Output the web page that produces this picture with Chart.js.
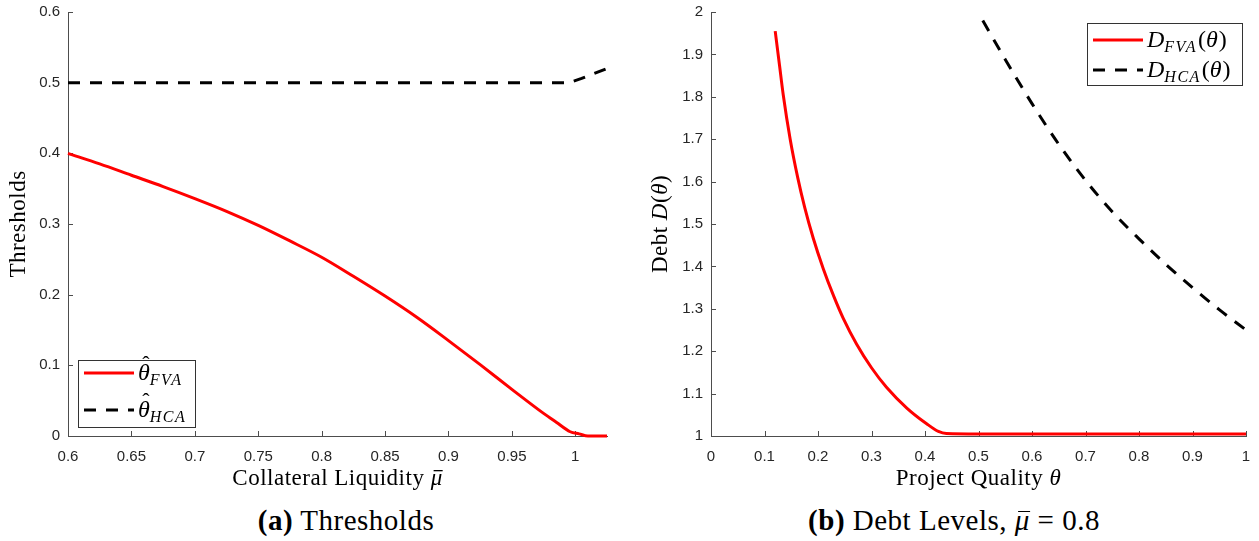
<!DOCTYPE html>
<html>
<head>
<meta charset="utf-8">
<script src="https://cdn.jsdelivr.net/npm/chart.js@4.4.1/dist/chart.umd.min.js"></script>
<style>
  body { margin: 0; background: #fff; width: 1259px; height: 541px; position: relative; overflow: hidden; }
  .panel { position: absolute; top: 0; height: 500px; }
  #leftWrap { left: 0; width: 620px; }
  #rightWrap { left: 640px; width: 619px; }
  .caption { position: absolute; top: 504px; font-family: "Liberation Serif", serif; font-size: 29px; letter-spacing: 0.5px; color: #000; white-space: nowrap; transform: translateX(-50%); }
  .mubar { position: relative; font-style: italic; }
  .mubar::before { content: ""; position: absolute; left: 3px; right: 0; top: 7px; border-top: 1.3px solid #000; }
</style>
</head>
<body>
<div class="panel" id="leftWrap"><canvas id="thresholdChart"></canvas></div>
<div class="panel" id="rightWrap"><canvas id="debtChart"></canvas></div>
<div class="caption" style="left:346px"><b>(a)</b> Thresholds</div>
<div class="caption" style="left:954px"><b>(b)</b> Debt Levels, <span class="mubar">μ</span> = 0.8</div>
<script>
// --- panel (a): thresholds vs collateral liquidity ---
const muFVA = [0.6, 0.625, 0.65, 0.675, 0.7, 0.725, 0.75, 0.775, 0.8, 0.825, 0.85, 0.875, 0.9, 0.925, 0.95, 0.975, 0.985, 0.996, 1.003, 1.01, 1.025];
const thetaFVA = [0.400, 0.385, 0.369, 0.353, 0.336, 0.318, 0.298, 0.276, 0.253, 0.226, 0.198, 0.168, 0.135, 0.101, 0.066, 0.032, 0.0195, 0.006, 0.003, 0.0, 0.0];
const muHCA = [0.6, 0.7, 0.8, 0.9, 0.995, 1.005, 1.015, 1.025];
const thetaHCA = [0.5, 0.5, 0.5, 0.5, 0.5, 0.506, 0.513, 0.520];

// --- panel (b): debt levels vs project quality ---
const qualFVA = [0.12, 0.128, 0.135, 0.148, 0.162, 0.175, 0.191, 0.21, 0.229, 0.247, 0.272, 0.3, 0.328, 0.366, 0.403, 0.425, 0.44, 0.5, 0.6, 0.7, 0.8, 0.9, 1.0];
const debtFVA = [1.955, 1.875, 1.805, 1.70, 1.61, 1.54, 1.467, 1.394, 1.331, 1.278, 1.217, 1.161, 1.115, 1.066, 1.029, 1.011, 1.006, 1.005, 1.005, 1.005, 1.005, 1.005, 1.005];
const qualHCA = [0.508, 0.55, 0.6, 0.65, 0.7, 0.75, 0.8, 0.85, 0.9, 0.95, 1.0];
const debtHCA = [1.98, 1.888, 1.784, 1.688, 1.603, 1.529, 1.465, 1.405, 1.35, 1.298, 1.25];

// legend labels: base symbol, hat, subscript, trailing "(θ)"
const legendA = [{ base: 'θ', hat: true, sub: 'FVA' }, { base: 'θ', hat: true, sub: 'HCA' }];
const legendB = [{ base: 'D', sub: 'FVA', arg: 'θ' }, { base: 'D', sub: 'HCA', arg: 'θ' }];

// axis titles as [text, italic, bar] parts
const titleAX = [['Collateral Liquidity ', false], ['μ', true, true]];
const titleAY = [['Thresholds', false]];
const titleBX = [['Project Quality ', false], ['θ', true]];
const titleBY = [['Debt ', false], ['D', true], ['(', false], ['θ', true], [')', false]];

const RED = '#ff0000';
const BLACK = '#000000';
const AXIS = '#4d4d4d';
const TICK_FONT = { family: '"Liberation Sans", Arial, sans-serif', size: 15 };
const SERIF = '"Liberation Serif", serif';

const pts = (xs, ys) => xs.map((x, i) => ({ x, y: ys[i] }));
const fmt = v => String(+v.toFixed(2));

// MATLAB-like inward tick marks
const inwardTicks = {
    id: 'inwardTicks',
    beforeDatasetsDraw(chart) {
        const { ctx, chartArea: a, scales: { x, y } } = chart;
        ctx.save();
        ctx.strokeStyle = AXIS;
        ctx.lineWidth = 1;
        ctx.beginPath();
        x.ticks.forEach(t => {
            const px = Math.round(x.getPixelForValue(t.value)) + 0.5;
            ctx.moveTo(px, a.bottom); ctx.lineTo(px, a.bottom - 5);
        });
        y.ticks.forEach(t => {
            const py = Math.round(y.getPixelForValue(t.value)) + 0.5;
            ctx.moveTo(a.left, py); ctx.lineTo(a.left + 5, py);
        });
        ctx.stroke();
        ctx.restore();
    }
};

// serif axis titles with italic math pieces
function setTitleFont(ctx, italic, size) {
    ctx.font = (italic ? 'italic ' : '') + size + 'px ' + SERIF;
    ctx.letterSpacing = '0.5px';
}
function partsWidth(ctx, parts, size) {
    return parts.reduce((s, p) => {
        setTitleFont(ctx, p[1], size);
        return s + ctx.measureText(p[0]).width;
    }, 0);
}
function drawParts(ctx, parts, x, y, size) {
    parts.forEach(p => {
        setTitleFont(ctx, p[1], size);
        ctx.fillText(p[0], x, y);
        const w = ctx.measureText(p[0]).width;
        if (p[2]) {
            ctx.fillRect(x + 3, y - 15, w - 3, 1.3);
        }
        x += w;
    });
}
const richTitles = {
    id: 'richTitles',
    afterDraw(chart, args, opts) {
        const { ctx, chartArea: a } = chart;
        const size = 23;
        ctx.save();
        ctx.fillStyle = '#000';
        ctx.textBaseline = 'alphabetic';
        ctx.textAlign = 'left';
        const wx = partsWidth(ctx, opts.x, size);
        drawParts(ctx, opts.x, (a.left + a.right) / 2 - wx / 2, opts.xBase, size);
        const wy = partsWidth(ctx, opts.y, size);
        ctx.translate(opts.yBase, (a.top + a.bottom) / 2);
        ctx.rotate(-Math.PI / 2);
        drawParts(ctx, opts.y, -wy / 2, 0, size);
        ctx.restore();
    }
};

function drawMathLabel(ctx, x, y, lab) {
    ctx.fillStyle = '#000';
    ctx.textBaseline = 'alphabetic';
    ctx.textAlign = 'left';
    ctx.font = 'italic 24px ' + SERIF;
    ctx.fillText(lab.base, x, y);
    let w = ctx.measureText(lab.base).width;
    if (lab.hat) {
        ctx.font = '22px ' + SERIF;
        const hw = ctx.measureText('\u02C6').width;
        ctx.fillText('\u02C6', x + (w - hw) / 2 + 2, y - 9);
    }
    ctx.font = 'italic 16px ' + SERIF;
    ctx.letterSpacing = '1.5px';
    ctx.fillText(lab.sub, x + w, y + 5);
    w += ctx.measureText(lab.sub).width + 1;
    ctx.letterSpacing = '0px';
    if (lab.arg) {
        ctx.font = '24px ' + SERIF;
        ctx.fillText('(', x + w, y);
        w += ctx.measureText('(').width;
        ctx.font = 'italic 24px ' + SERIF;
        ctx.fillText(lab.arg, x + w, y);
        w += ctx.measureText(lab.arg).width + 1;
        ctx.font = '24px ' + SERIF;
        ctx.fillText(')', x + w, y);
    }
}

// boxed legend with sub-scripted math labels
const mathLegend = {
    id: 'mathLegend',
    afterDraw(chart, args, opts) {
        const { ctx, chartArea: a } = chart;
        const box = opts.corner === 'bl'
            ? { l: a.left + 10, t: a.bottom - 9 - opts.h, w: opts.w, h: opts.h }
            : { l: a.right - 4 - opts.w, t: a.top + 11, w: opts.w, h: opts.h };
        ctx.save();
        ctx.fillStyle = '#fff';
        ctx.fillRect(box.l, box.t, box.w, box.h);
        ctx.strokeStyle = '#333';
        ctx.lineWidth = 1;
        ctx.strokeRect(Math.round(box.l) + 0.5, Math.round(box.t) + 0.5, box.w, box.h);
        chart.data.datasets.forEach((ds, i) => {
            const cy = box.t + opts.rows[i];
            ctx.beginPath();
            ctx.strokeStyle = ds.borderColor;
            ctx.lineWidth = ds.borderWidth;
            ctx.setLineDash(ds.borderDash || []);
            ctx.moveTo(box.l + 6, cy);
            ctx.lineTo(box.l + 56, cy);
            ctx.stroke();
            ctx.setLineDash([]);
            drawMathLabel(ctx, box.l + 60, cy + 7, opts.labels[i]);
        });
        ctx.restore();
    }
};

function axis(min, max, step, fitSize, isX) {
    return {
        type: 'linear',
        min, max,
        grid: { drawOnChartArea: false, drawTicks: false },
        border: { display: true, color: AXIS, width: 1 },
        ticks: {
            stepSize: step,
            includeBounds: false,
            autoSkip: false,
            maxRotation: 0,
            padding: isX ? 12 : 8,
            color: '#262626',
            font: TICK_FONT,
            callback: v => fmt(v)
        },
        title: { display: false },
        afterFit(scale) {
            if (isX) scale.height = fitSize; else scale.width = fitSize;
            scale.paddingTop = 0;
            scale.paddingBottom = 0;
            scale.paddingLeft = 0;
            scale.paddingRight = 0;
        }
    };
}

Chart.defaults.animation = false;

new Chart(document.getElementById('thresholdChart').getContext('2d'), {
    type: 'line',
    data: {
        datasets: [{
            data: pts(muFVA, thetaFVA),
            borderColor: RED,
            borderWidth: 3,
            pointRadius: 0,
            cubicInterpolationMode: 'monotone',
            clip: false
        }, {
            data: pts(muHCA, thetaHCA),
            borderColor: BLACK,
            borderWidth: 3,
            borderDash: [12, 10],
            pointRadius: 0,
            tension: 0,
            clip: false
        }]
    },
    options: {
        responsive: true,
        maintainAspectRatio: false,
        layout: { padding: { top: 12, right: 13, left: 0, bottom: 0 } },
        plugins: {
            legend: { display: false },
            tooltip: { enabled: false },
            mathLegend: { corner: 'bl', w: 117, h: 67, rows: [13, 50], labels: legendA },
            richTitles: { x: titleAX, y: titleAY, xBase: 485, yBase: 25 }
        },
        scales: {
            x: axis(0.6, 1.025, 0.05, 64, true),
            y: axis(0, 0.6, 0.1, 68, false)
        }
    },
    plugins: [inwardTicks, mathLegend, richTitles]
});

new Chart(document.getElementById('debtChart').getContext('2d'), {
    type: 'line',
    data: {
        datasets: [{
            data: pts(qualFVA, debtFVA),
            borderColor: RED,
            borderWidth: 3,
            pointRadius: 0,
            cubicInterpolationMode: 'monotone',
            clip: false
        }, {
            data: pts(qualHCA, debtHCA),
            borderColor: BLACK,
            borderWidth: 3,
            borderDash: [12, 10],
            pointRadius: 0,
            cubicInterpolationMode: 'monotone',
            clip: false
        }]
    },
    options: {
        responsive: true,
        maintainAspectRatio: false,
        layout: { padding: { top: 12, right: 13, left: 0, bottom: 0 } },
        plugins: {
            legend: { display: false },
            tooltip: { enabled: false },
            mathLegend: { corner: 'tr', w: 155, h: 62, rows: [17, 47], labels: legendB },
            richTitles: { x: titleBX, y: titleBY, xBase: 485, yBase: 27 }
        },
        scales: {
            x: axis(0, 1, 0.1, 64, true),
            y: axis(1, 2, 0.1, 71, false)
        }
    },
    plugins: [inwardTicks, mathLegend, richTitles]
});
</script>
</body>
</html>
